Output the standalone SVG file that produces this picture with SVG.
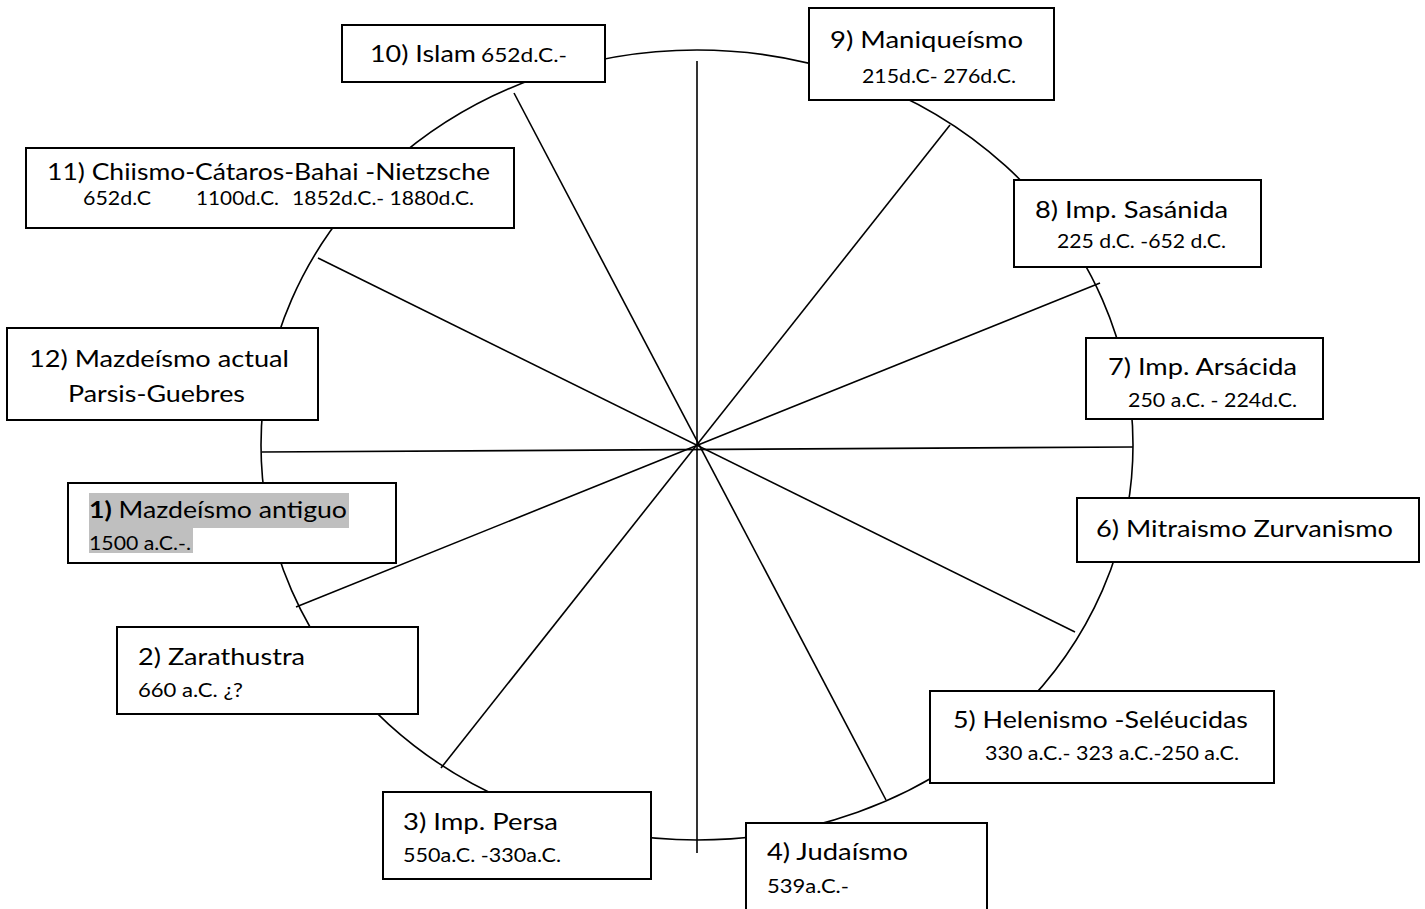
<svg xmlns="http://www.w3.org/2000/svg" width="1425" height="909" viewBox="0 0 1425 909">
<style>
.box{fill:#fff;stroke:#000;stroke-width:2}
.t{font-family:Lato,"Open Sans",sans-serif;font-size:23px;fill:#000}
.s{font-family:Lato,"Open Sans",sans-serif;font-size:19.5px;fill:#000}
.c{fill:none;stroke:#000;stroke-width:1.6}
</style>
<rect width="1425" height="909" fill="#fff"/>
<g id="connectors">
<ellipse class="c" cx="697" cy="445" rx="436" ry="395"/>
<line class="c" x1="697" y1="61" x2="697" y2="853"/>
<line class="c" x1="514" y1="93" x2="886" y2="800"/>
<line class="c" x1="318" y1="258" x2="1075" y2="632"/>
<line class="c" x1="262" y1="452" x2="1133" y2="447"/>
<line class="c" x1="296" y1="607" x2="1100" y2="283"/>
<line class="c" x1="441" y1="768" x2="950" y2="125"/>
</g>
<g id="n10">
<rect class="box" x="342" y="25" width="263" height="57"/>
<text class="t" x="370" y="62" textLength="106" lengthAdjust="spacingAndGlyphs">10) Islam</text>
<text class="s" x="481" y="62" textLength="86" lengthAdjust="spacingAndGlyphs">652d.C.-</text>
</g>
<g id="n9">
<rect class="box" x="809" y="8" width="245" height="92"/>
<text class="t" x="830" y="48" textLength="193" lengthAdjust="spacingAndGlyphs">9) Maniqueísmo</text>
<text class="s" x="862" y="83" textLength="154" lengthAdjust="spacingAndGlyphs">215d.C- 276d.C.</text>
</g>
<g id="n11">
<rect class="box" x="26" y="148" width="488" height="80"/>
<text class="t" x="47" y="180" textLength="443" lengthAdjust="spacingAndGlyphs">11) Chiismo-Cátaros-Bahai -Nietzsche</text>
<text class="s" x="83" y="205" textLength="68" lengthAdjust="spacingAndGlyphs">652d.C</text>
<text class="s" x="196" y="205" textLength="83" lengthAdjust="spacingAndGlyphs">1100d.C.</text>
<text class="s" x="292" y="205" textLength="182" lengthAdjust="spacingAndGlyphs">1852d.C.- 1880d.C.</text>
</g>
<g id="n8">
<rect class="box" x="1014" y="180" width="247" height="87"/>
<text class="t" x="1035" y="218" textLength="193" lengthAdjust="spacingAndGlyphs">8) Imp. Sasánida</text>
<text class="s" x="1057" y="248" textLength="169" lengthAdjust="spacingAndGlyphs">225 d.C. -652 d.C.</text>
</g>
<g id="n12">
<rect class="box" x="7" y="328" width="311" height="92"/>
<text class="t" x="29" y="367" textLength="260" lengthAdjust="spacingAndGlyphs">12) Mazdeísmo actual</text>
<text class="t" x="68" y="402" textLength="177" lengthAdjust="spacingAndGlyphs">Parsis-Guebres</text>
</g>
<g id="n7">
<rect class="box" x="1086" y="338" width="237" height="81"/>
<text class="t" x="1108" y="375" textLength="189" lengthAdjust="spacingAndGlyphs">7) Imp. Arsácida</text>
<text class="s" x="1128" y="407" textLength="169" lengthAdjust="spacingAndGlyphs">250 a.C. - 224d.C.</text>
</g>
<g id="n1">
<rect class="box" x="68" y="483" width="328" height="80"/>
<rect x="89" y="493" width="260" height="35" fill="#bfbfbf"/>
<rect x="89" y="528" width="104" height="25" fill="#bfbfbf"/>
<text class="t" x="89" y="518" textLength="258" lengthAdjust="spacingAndGlyphs"><tspan font-weight="bold">1)</tspan> Mazdeísmo antiguo</text>
<text class="s" x="89" y="550" textLength="102" lengthAdjust="spacingAndGlyphs">1500 a.C.-.</text>
</g>
<g id="n6">
<rect class="box" x="1077" y="498" width="342" height="64"/>
<text class="t" x="1096" y="537" textLength="297" lengthAdjust="spacingAndGlyphs">6) Mitraismo Zurvanismo</text>
</g>
<g id="n2">
<rect class="box" x="117" y="627" width="301" height="87"/>
<text class="t" x="138" y="665" textLength="167" lengthAdjust="spacingAndGlyphs">2) Zarathustra</text>
<text class="s" x="138" y="697" textLength="105" lengthAdjust="spacingAndGlyphs">660 a.C. ¿?</text>
</g>
<g id="n5">
<rect class="box" x="930" y="691" width="344" height="92"/>
<text class="t" x="953" y="728" textLength="295" lengthAdjust="spacingAndGlyphs">5) Helenismo -Seléucidas</text>
<text class="s" x="985" y="760" textLength="254" lengthAdjust="spacingAndGlyphs">330 a.C.- 323 a.C.-250 a.C.</text>
</g>
<g id="n3">
<rect class="box" x="383" y="792" width="268" height="87"/>
<text class="t" x="403" y="830" textLength="155" lengthAdjust="spacingAndGlyphs">3) Imp. Persa</text>
<text class="s" x="403" y="862" textLength="158" lengthAdjust="spacingAndGlyphs">550a.C. -330a.C.</text>
</g>
<g id="n4">
<rect class="box" x="746" y="823" width="241" height="100"/>
<text class="t" x="767" y="860" textLength="141" lengthAdjust="spacingAndGlyphs">4) Judaísmo</text>
<text class="s" x="767" y="893" textLength="82" lengthAdjust="spacingAndGlyphs">539a.C.-</text>
</g>
</svg>
